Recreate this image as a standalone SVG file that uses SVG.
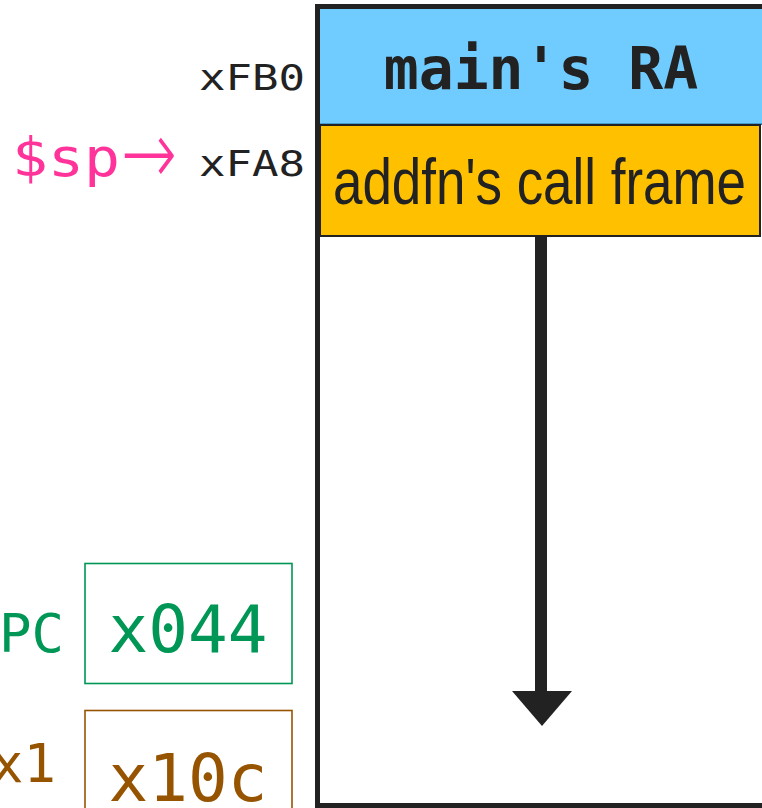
<svg xmlns="http://www.w3.org/2000/svg" width="762" height="808" viewBox="0 0 762 808">
  <style>
    .mono { font-family: "DejaVu Sans Mono", "Liberation Mono", monospace; }
    .addr { font-size: 36px; fill: #222222; }
    .frame-text { font-family: "Liberation Sans Narrow", "Liberation Sans", Arial, sans-serif; font-size: 64px; fill: #222222; }
    .pc { fill: #009655; }
    .x1 { fill: #975400; }
    .sp { fill: #ff3399; }
  </style>

  <rect width="762" height="808" fill="#ffffff"/>

  <!-- stack region outline -->
  <g id="stack">
    <rect x="317.5" y="6.5" width="460" height="799" fill="#ffffff" stroke="#222222" stroke-width="5"/>
  </g>

  <!-- saved return address of main -->
  <g id="main-ra">
    <rect x="320" y="9" width="450" height="115.5" fill="#70cbff"/>
    <line x1="320" y1="124.3" x2="770" y2="124.3" stroke="#1d6f9c" stroke-width="1.6"/>
    <text class="mono" x="541" y="89" font-size="58" font-weight="bold" fill="#222222" text-anchor="middle">main's RA</text>
  </g>

  <!-- addfn's frame -->
  <g id="addfn-frame">
    <rect x="320" y="125" width="440" height="111" fill="#ffc000" stroke="#222222" stroke-width="2"/>
    <text class="frame-text" x="333" y="204" textLength="413" lengthAdjust="spacingAndGlyphs">addfn's call frame</text>
  </g>

  <!-- addresses -->
  <g id="addr-fb0">
    <text class="mono addr" x="199" y="90" textLength="106" lengthAdjust="spacingAndGlyphs">xFB0</text>
  </g>
  <g id="addr-fa8">
    <text class="mono addr" x="199" y="176" textLength="106" lengthAdjust="spacingAndGlyphs">xFA8</text>
  </g>

  <!-- stack pointer -->
  <g id="sp">
    <text class="mono sp" x="12" y="176" font-size="54" textLength="108" lengthAdjust="spacingAndGlyphs">$sp</text>
    <text class="sp" x="121" y="184" font-family="DejaVu Sans, sans-serif" font-size="90" font-weight="300" textLength="56" lengthAdjust="spacingAndGlyphs">→</text>
  </g>

  <!-- program counter register -->
  <g id="pc-reg">
    <text class="mono pc" x="64" y="652" font-size="54" text-anchor="end">PC</text>
    <rect x="85" y="563.5" width="207" height="120" fill="none" stroke="#009655" stroke-width="1.6"/>
    <text class="mono pc" x="188" y="652" font-size="66" text-anchor="middle">x044</text>
  </g>

  <!-- x1 register -->
  <g id="x1-reg">
    <text class="mono x1" x="56" y="782" font-size="54" text-anchor="end">x1</text>
    <rect x="85" y="710.5" width="207" height="120" fill="none" stroke="#975400" stroke-width="1.6"/>
    <text class="mono x1" x="188" y="801" font-size="66" text-anchor="middle">x10c</text>
  </g>

  <!-- growth direction -->
  <g id="connectors">
    <line x1="541" y1="237" x2="541" y2="692" stroke="#222222" stroke-width="12"/>
    <polygon points="512,691 572,691 542,726" fill="#222222"/>
  </g>
</svg>
